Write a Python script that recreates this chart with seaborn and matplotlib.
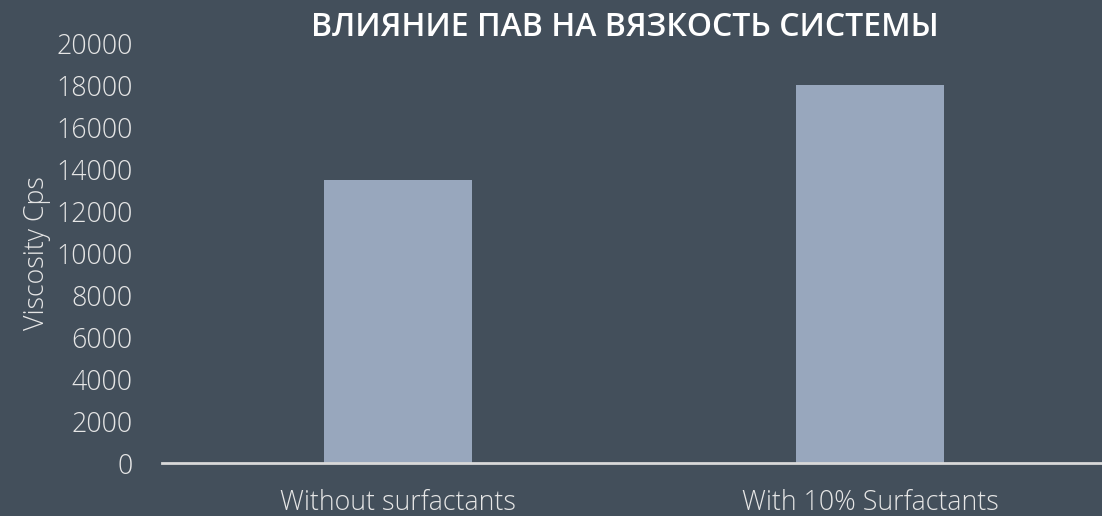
import matplotlib
matplotlib.use("Agg")
import matplotlib.pyplot as plt
import seaborn as sns
import pandas as pd

categories = ["Without surfactants", "With 10% Surfactants"]
viscosity = [13500, 18000]
yticks = list(range(0, 20001, 2000))
title = "ВЛИЯНИЕ ПАВ НА ВЯЗКОСТЬ СИСТЕМЫ"
ylabel = "Viscosity Cps"

bg = "#434f5b"
bar_color = "#98a7bd"
text_color = "#e6e6e6"

sns.set_style("white")
plt.rcParams["font.family"] = ["Open Sans", "DejaVu Sans"]

df = pd.DataFrame({"cat": categories, "val": viscosity})

fig = plt.figure(figsize=(11.02, 5.16), dpi=100, facecolor=bg)
ax = fig.add_axes([162 / 1102, 53 / 516, 944 / 1102, 420 / 516])
ax.set_facecolor(bg)
sns.barplot(data=df, x="cat", y="val", color=bar_color, width=0.314,
            saturation=1, linewidth=0, edgecolor="none", ax=ax)
ax.set_xlim(-0.5, 1.5)
ax.set_ylim(0, 20000)
ax.set_yticks(yticks)
ax.set_yticklabels([str(t) for t in yticks], fontsize=19.3, color=text_color,
                   fontweight="light")
for lab in ax.get_xticklabels():
    lab.set_fontsize(19.3)
    lab.set_color(text_color)
    lab.set_fontweight("light")
ax.tick_params(axis="both", length=0)
ax.tick_params(axis="y", pad=21)
ax.tick_params(axis="x", pad=19)
ax.set_xlabel("")
ax.set_ylabel(ylabel, fontsize=19.3, color=text_color, fontweight="light", labelpad=4)
for s in ["top", "right", "left"]:
    ax.spines[s].set_visible(False)
ax.spines["bottom"].set_color("#d9d9d9")
ax.spines["bottom"].set_linewidth(2)
fig.text(625 / 1102, 1 - 27 / 516, title, ha="center", va="center",
         fontsize=23, fontweight="semibold", color="#ffffff")
fig.savefig("out.png", dpi=100, facecolor=bg)
